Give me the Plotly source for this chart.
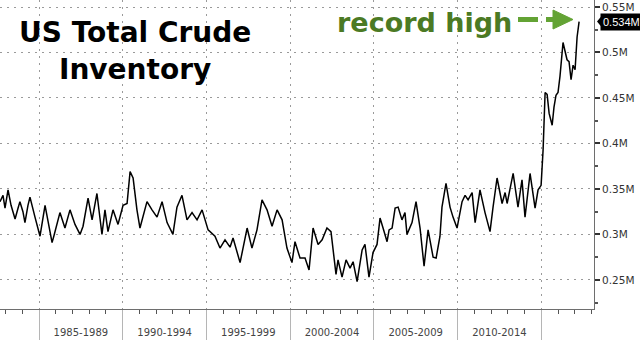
import plotly.graph_objects as go

# ---- data ----
years = [
    1982.67, 1982.85, 1982.97, 1983.15, 1983.33, 1983.57, 1983.75, 1983.86, 1984.04, 1984.16,
    1984.34, 1984.46, 1984.76, 1985.06, 1985.36, 1985.54, 1985.78, 1985.90, 1986.08, 1986.25,
    1986.55, 1986.85, 1987.15, 1987.45, 1987.63, 1987.93, 1988.17, 1988.46, 1988.76, 1988.94,
    1989.12, 1989.42, 1989.72, 1990.02, 1990.26, 1990.44, 1990.62, 1990.85, 1991.03, 1991.27,
    1991.45, 1991.75, 1992.05, 1992.35, 1992.65, 1993.00, 1993.24, 1993.54, 1993.84, 1994.14,
    1994.44, 1994.74, 1995.10, 1995.51, 1995.81, 1996.11, 1996.41, 1996.59, 1997.01, 1997.43,
    1997.72, 1998.02, 1998.32, 1998.62, 1998.92, 1999.22, 1999.52, 1999.81, 2000.11, 2000.29,
    2000.59, 2000.89, 2001.13, 2001.37, 2001.67, 2001.91, 2002.20, 2002.44, 2002.74, 2002.86,
    2003.10, 2003.34, 2003.58, 2003.76, 2004.00, 2004.30, 2004.47, 2004.71, 2004.95, 2005.19,
    2005.37, 2005.55, 2005.79, 2005.91, 2006.09, 2006.27, 2006.45, 2006.68, 2006.86, 2006.98,
    2007.28, 2007.52, 2007.76, 2008.00, 2008.24, 2008.54, 2008.72, 2008.95, 2009.07, 2009.31,
    2009.55, 2009.73, 2009.97, 2010.27, 2010.45, 2010.63, 2010.87, 2011.05, 2011.34, 2011.64,
    2011.94, 2012.12, 2012.36, 2012.66, 2012.84, 2012.96, 2013.32, 2013.61, 2013.85, 2014.03,
    2014.33, 2014.63, 2014.81, 2014.99, 2015.11, 2015.23, 2015.35, 2015.47, 2015.65, 2015.76,
    2015.88, 2016.00, 2016.12, 2016.30, 2016.42, 2016.54, 2016.66, 2016.78, 2016.90, 2017.02,
    2017.14, 2017.26,
]
values = [
    0.336, 0.343, 0.329, 0.349, 0.332, 0.317, 0.329, 0.336, 0.325, 0.313,
    0.332, 0.341, 0.319, 0.298, 0.332, 0.314, 0.291, 0.299, 0.311, 0.324,
    0.307, 0.327, 0.311, 0.300, 0.309, 0.340, 0.316, 0.345, 0.300, 0.327,
    0.303, 0.327, 0.311, 0.332, 0.334, 0.369, 0.362, 0.327, 0.307, 0.325,
    0.336, 0.327, 0.319, 0.336, 0.313, 0.300, 0.330, 0.343, 0.316, 0.324,
    0.316, 0.327, 0.305, 0.298, 0.285, 0.294, 0.286, 0.296, 0.269, 0.307,
    0.285, 0.305, 0.338, 0.327, 0.309, 0.327, 0.316, 0.285, 0.269, 0.292,
    0.274, 0.274, 0.261, 0.307, 0.289, 0.294, 0.307, 0.303, 0.256, 0.272,
    0.253, 0.272, 0.263, 0.270, 0.248, 0.283, 0.289, 0.253, 0.280, 0.289,
    0.318, 0.307, 0.292, 0.305, 0.307, 0.329, 0.330, 0.316, 0.324, 0.300,
    0.313, 0.336, 0.307, 0.265, 0.305, 0.275, 0.274, 0.298, 0.330, 0.356,
    0.330, 0.319, 0.307, 0.336, 0.343, 0.338, 0.346, 0.313, 0.349, 0.324,
    0.303, 0.330, 0.362, 0.334, 0.346, 0.334, 0.367, 0.330, 0.360, 0.319,
    0.367, 0.329, 0.349, 0.354, 0.393, 0.456, 0.454, 0.433, 0.420, 0.440,
    0.453, 0.456, 0.474, 0.511, 0.501, 0.492, 0.490, 0.470, 0.486, 0.481,
    0.517, 0.534,
]
period_labels = ["1985-1989", "1990-1994", "1995-1999", "2000-2004", "2005-2009", "2010-2014"]
period_centers = [1987.5, 1992.5, 1997.5, 2002.5, 2007.5, 2012.5]

X_RANGE = [1982.67, 2018.15]
Y_RANGE = [0.218, 0.5577]

FONT = "DejaVu Sans"
GRID = "#9a9a9a"
DOTS = "2px,5px"

fig = go.Figure()
fig.add_trace(go.Scatter(
    x=years, y=values, mode="lines",
    line=dict(color="#000000", width=1.5),
    hoverinfo="skip", showlegend=False,
))
# helper (invisible) trace so the label axis is drawn
fig.add_trace(go.Scatter(
    x=[years[0]], y=[values[0]], xaxis="x2", mode="markers",
    marker=dict(opacity=0), hoverinfo="skip", showlegend=False,
))

last = values[-1]

fig.update_layout(
    width=640, height=341,
    margin=dict(l=0, r=46, t=0, b=32),
    paper_bgcolor="white", plot_bgcolor="white",
    font=dict(family=FONT, color="#333333"),
    xaxis=dict(
        range=X_RANGE, tickmode="linear", tick0=1985, dtick=5,
        ticks="outside", ticklen=30, tickwidth=1, tickcolor="#b5b5b5",
        showticklabels=False,
        showgrid=True, gridcolor=GRID, griddash=DOTS, gridwidth=1,
        showline=True, linecolor="#6e6e6e", linewidth=1, zeroline=False,
        minor=dict(tick0=1985, dtick=1, ticks="outside", ticklen=4,
                   tickcolor="#555555", showgrid=False),
    ),
    xaxis2=dict(
        range=X_RANGE, overlaying="x", side="bottom", anchor="y",
        tickmode="array", tickvals=period_centers, ticktext=period_labels,
        ticks="", showgrid=False, showline=False, zeroline=False,
        ticklabelstandoff=16,
        tickfont=dict(family=FONT, size=10, color="#444444"),
    ),
    yaxis=dict(
        range=Y_RANGE, side="right", tickmode="linear", tick0=0.25, dtick=0.05,
        tickformat=".2~f", ticksuffix="M",
        ticks="outside", ticklen=5, tickwidth=2, tickcolor="#333333",
        showline=True, linecolor="#6e6e6e", linewidth=1,
        showgrid=True, gridcolor=GRID, griddash=DOTS, gridwidth=1,
        zeroline=False,
        tickfont=dict(family=FONT, size=10.5, color="#333333"),
        minor=dict(tick0=0.225, dtick=0.025, ticks="outside", ticklen=3,
                   tickcolor="#555555", showgrid=False),
    ),
    annotations=[
        dict(text="<b>US Total Crude</b>", xref="paper", yref="paper",
             x=134.5 / 594, y=1 - 33 / 309, xanchor="center", yanchor="middle",
             showarrow=False, font=dict(family=FONT, size=28, color="#000000")),
        dict(text="<b>Inventory</b>", xref="paper", yref="paper",
             x=134.5 / 594, y=1 - 70 / 309, xanchor="center", yanchor="middle",
             showarrow=False, font=dict(family=FONT, size=28, color="#000000")),
        dict(text="<b>record high</b>", xref="paper", yref="paper",
             x=424 / 594, y=1 - 22 / 309, xanchor="center", yanchor="middle",
             showarrow=False, font=dict(family=FONT, size=27, color="#4b7a24")),
        dict(text=f"{last:.3f}M", xref="paper", yref="y",
             x=1, y=last, xanchor="left", yanchor="middle", xshift=6,
             showarrow=False, bgcolor="#000000", borderpad=2,
             font=dict(family="Liberation Sans", size=11, color="#ffffff")),
    ],
    shapes=[
        # dashed green arrow
        dict(type="line", xref="paper", yref="paper",
             x0=518 / 594, x1=538 / 594, y0=1 - 19.5 / 309, y1=1 - 19.5 / 309,
             line=dict(color="#63a334", width=5)),
        dict(type="line", xref="paper", yref="paper",
             x0=546 / 594, x1=556 / 594, y0=1 - 19.5 / 309, y1=1 - 19.5 / 309,
             line=dict(color="#63a334", width=5)),
        dict(type="path", xref="paper", yref="paper",
             path=f"M {553/594},{1-10/309} L {573/594},{1-19.5/309} L {553/594},{1-29/309} Z",
             fillcolor="#63a334", line=dict(color="#63a334", width=1)),
        # pointer of the last-value tag
        dict(type="path", xref="paper", yref="y",
             path=f"M {597/594},{last} L {603/594},{last + 0.008} L {603/594},{last - 0.008} Z",
             fillcolor="#000000", line=dict(color="#000000", width=0)),
    ],
)

fig.write_html("out.html")
